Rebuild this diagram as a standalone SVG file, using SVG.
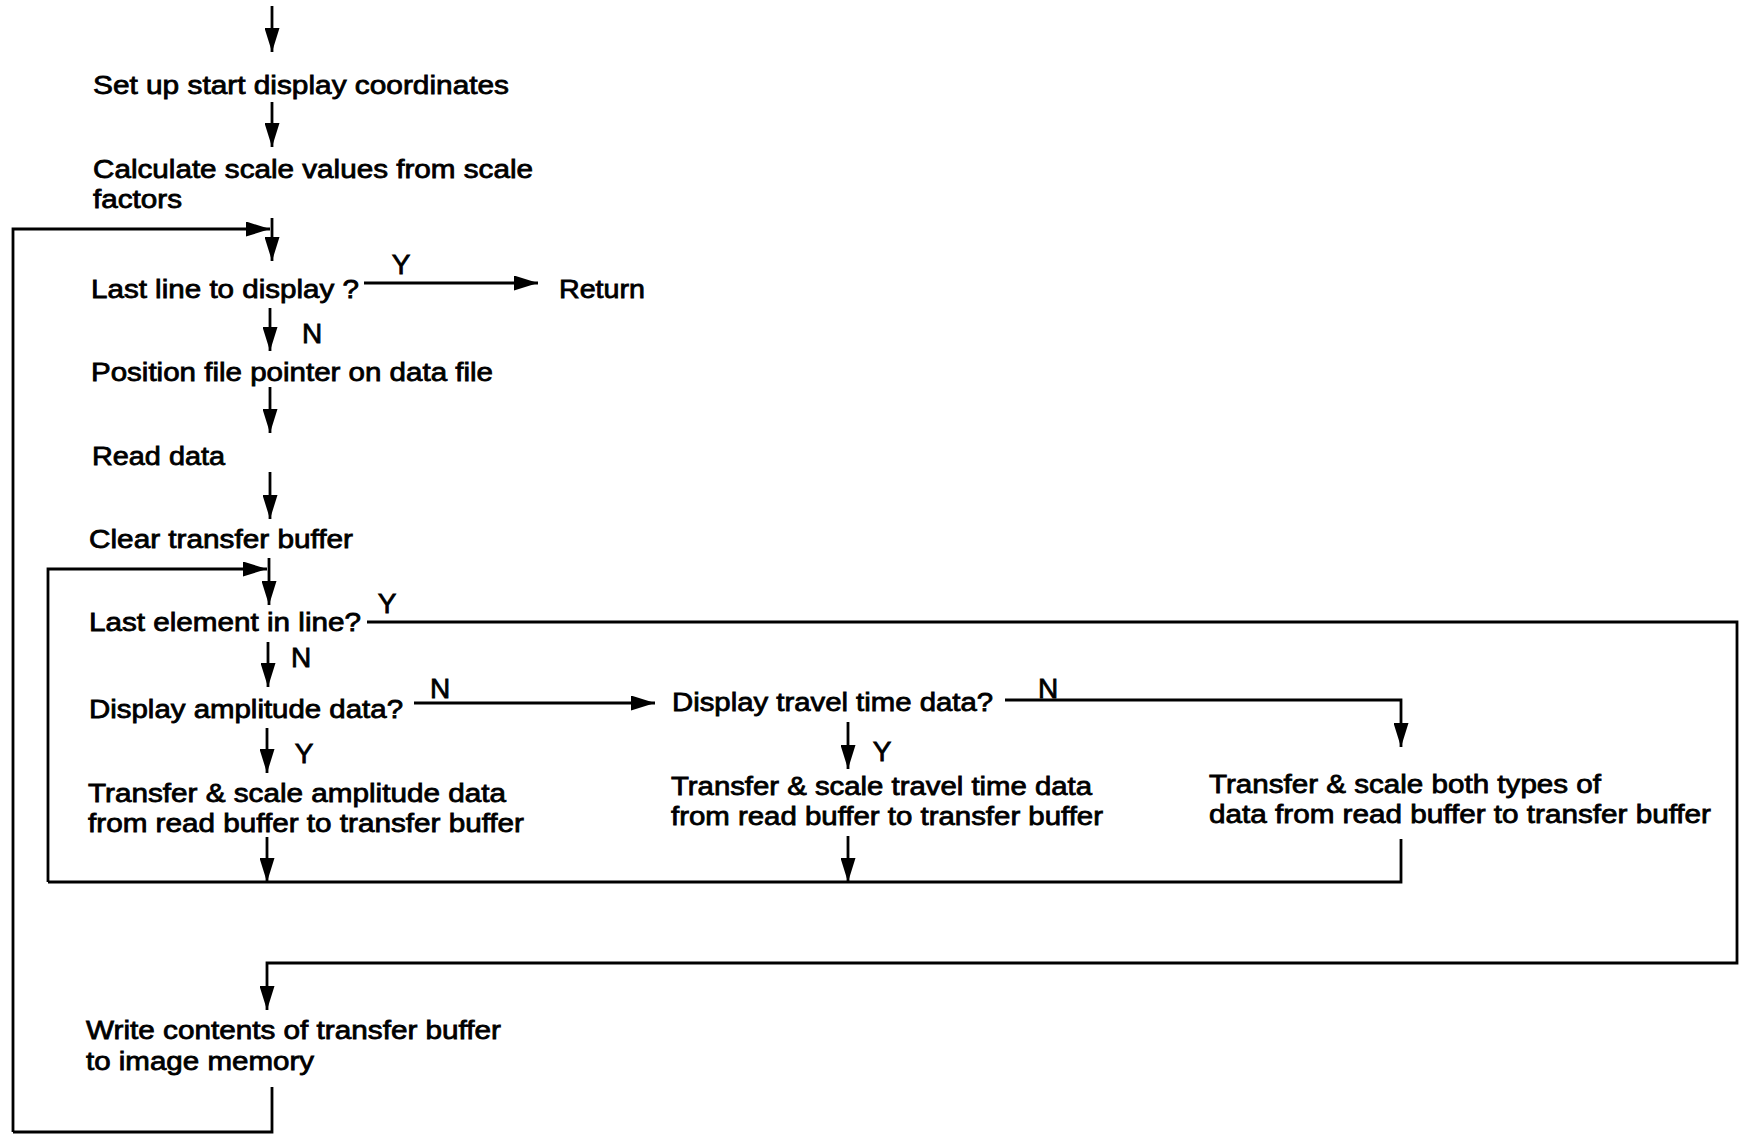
<svg xmlns="http://www.w3.org/2000/svg" width="1742" height="1134" viewBox="0 0 1742 1134">
<style>
.t{font-family:"Liberation Sans",Arial,Helvetica,sans-serif;font-size:26px;fill:#000;stroke:#000;stroke-width:0.8}
.l{font-family:"Liberation Sans",Arial,Helvetica,sans-serif;font-size:28px;fill:#000;stroke:#000;stroke-width:0.8;text-anchor:middle}
.c{fill:none;stroke:#000;stroke-width:2.8}
</style>
<defs>
<marker id="ah" viewBox="0 0 24 15" refX="24" refY="7.5" markerWidth="24" markerHeight="15" orient="auto" markerUnits="userSpaceOnUse">
<path d="M0,0 L24,7.5 L0,15 Z" fill="#000"/>
</marker>
</defs>
<rect width="1742" height="1134" fill="#fff"/>

<g id="connectors">
<path class="c" d="M272,6 V52" marker-end="url(#ah)"/>
<path class="c" d="M272,102 V147" marker-end="url(#ah)"/>
<path class="c" d="M272,218 V261" marker-end="url(#ah)"/>
<path class="c" d="M13,1132 V229 H270" marker-end="url(#ah)"/>
<path class="c" d="M364,283 H538" marker-end="url(#ah)"/>
<path class="c" d="M270,308 V351" marker-end="url(#ah)"/>
<path class="c" d="M270,387 V433" marker-end="url(#ah)"/>
<path class="c" d="M270,472 V519" marker-end="url(#ah)"/>
<path class="c" d="M48,882 V569 H267" marker-end="url(#ah)"/>
<path class="c" d="M269,558 V605" marker-end="url(#ah)"/>
<path class="c" d="M367,622 H1737 V963 H267 V1010" marker-end="url(#ah)"/>
<path class="c" d="M268,642 V687" marker-end="url(#ah)"/>
<path class="c" d="M414,703 H655" marker-end="url(#ah)"/>
<path class="c" d="M1005,700 H1401 V747" marker-end="url(#ah)"/>
<path class="c" d="M267,728 V773" marker-end="url(#ah)"/>
<path class="c" d="M267,837 V882" marker-end="url(#ah)"/>
<path class="c" d="M848,722 V769" marker-end="url(#ah)"/>
<path class="c" d="M848,836 V882" marker-end="url(#ah)"/>
<path class="c" d="M1401,839 V882 H48"/>
<path class="c" d="M272,1087 V1132 H13"/>
<text class="l" x="401" y="274">Y</text>
<text class="l" x="312" y="343">N</text>
<text class="l" x="387" y="613">Y</text>
<text class="l" x="301" y="667">N</text>
<text class="l" x="440" y="698">N</text>
<text class="l" x="1048" y="698">N</text>
<text class="l" x="304" y="763">Y</text>
<text class="l" x="882" y="761">Y</text>
</g>

<g id="setup"><text class="t" x="93" y="94" textLength="416" lengthAdjust="spacingAndGlyphs">Set up start display coordinates</text></g>
<g id="calc"><text class="t" x="93" y="178" textLength="440" lengthAdjust="spacingAndGlyphs">Calculate scale values from scale</text><text class="t" x="93" y="208" textLength="89" lengthAdjust="spacingAndGlyphs">factors</text></g>
<g id="lastline"><text class="t" x="91" y="298" textLength="268" lengthAdjust="spacingAndGlyphs">Last line to display ?</text></g>
<g id="return"><text class="t" x="559" y="298" textLength="86" lengthAdjust="spacingAndGlyphs">Return</text></g>
<g id="position"><text class="t" x="91" y="381" textLength="402" lengthAdjust="spacingAndGlyphs">Position file pointer on data file</text></g>
<g id="read"><text class="t" x="92" y="465" textLength="133" lengthAdjust="spacingAndGlyphs">Read data</text></g>
<g id="clear"><text class="t" x="89" y="548" textLength="264" lengthAdjust="spacingAndGlyphs">Clear transfer buffer</text></g>
<g id="lastelem"><text class="t" x="89" y="631" textLength="272" lengthAdjust="spacingAndGlyphs">Last element in line?</text></g>
<g id="dispamp"><text class="t" x="89" y="718" textLength="314" lengthAdjust="spacingAndGlyphs">Display amplitude data?</text></g>
<g id="disptravel"><text class="t" x="672" y="711" textLength="321" lengthAdjust="spacingAndGlyphs">Display travel time data?</text></g>
<g id="xferamp"><text class="t" x="88" y="802" textLength="418" lengthAdjust="spacingAndGlyphs">Transfer &amp; scale amplitude data</text><text class="t" x="88" y="832" textLength="436" lengthAdjust="spacingAndGlyphs">from read buffer to transfer buffer</text></g>
<g id="xfertravel"><text class="t" x="671" y="795" textLength="421" lengthAdjust="spacingAndGlyphs">Transfer &amp; scale travel time data</text><text class="t" x="671" y="825" textLength="432" lengthAdjust="spacingAndGlyphs">from read buffer to transfer buffer</text></g>
<g id="xferboth"><text class="t" x="1209" y="793" textLength="392" lengthAdjust="spacingAndGlyphs">Transfer &amp; scale both types of</text><text class="t" x="1209" y="823" textLength="502" lengthAdjust="spacingAndGlyphs">data from read buffer to transfer buffer</text></g>
<g id="write"><text class="t" x="86" y="1039" textLength="415" lengthAdjust="spacingAndGlyphs">Write contents of transfer buffer</text><text class="t" x="86" y="1070" textLength="228" lengthAdjust="spacingAndGlyphs">to image memory</text></g>
</svg>
